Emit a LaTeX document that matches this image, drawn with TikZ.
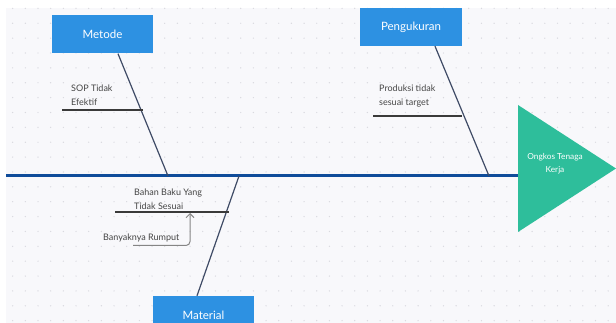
\documentclass[tikz,border=0pt]{standalone}
\usepackage{fontspec}
\setmainfont{Lato}
\usetikzlibrary{arrows.meta,calc}
\definecolor{bgc}{HTML}{F8F8FB}
\definecolor{dotc}{HTML}{D9D9DF}
\definecolor{spinec}{HTML}{0F4C9A}
\definecolor{bonec}{HTML}{3F4B66}
\definecolor{subc}{HTML}{3A3A3A}
\definecolor{boxc}{HTML}{2D91E2}
\definecolor{headc}{HTML}{2EBE9B}
\definecolor{labc}{HTML}{454545}
\definecolor{arrc}{HTML}{858585}
\tikzset{
  catbox/.style={rectangle, fill=boxc, text=white, minimum width=101pt, minimum height=38pt, inner sep=0pt, font=\fontsize{11.5}{14}\selectfont},
  lbl/.style={anchor=north west, align=left, text=labc, inner sep=0pt, font=\fontsize{9}{14}\selectfont},
  bone/.style={draw=bonec, line width=1.2pt},
  subbone/.style={draw=subc, line width=1.4pt},
  spine/.style={draw=spinec, line width=3pt},
  headtxt/.style={align=center, text=white, inner sep=0pt, font=\fontsize{8.3}{13.5}\selectfont}
}
\begin{document}
\begin{tikzpicture}[x=1pt,y=-1pt]
\useasboundingbox (0,0) rectangle (616,323);
\clip (0,0) rectangle (616,323);
\fill[white] (0,0) rectangle (616,323);
\fill[bgc] (6,8) rectangle (616,323);
\foreach \k in {1,...,48}{
  \foreach \j in {0,...,21}{
    \fill[dotc] ({12.67*\k},{8.4+14.87*\j}) circle (0.7);
  }
}
% head
\coordinate (tail) at (6,176);
\coordinate (head) at (518,176);
\fill[headc] (518,105) -- (616,168.5) -- (518,232) -- cycle;
\node[headtxt] (effect) at (555,163.5) {Ongkos Tenaga\\Kerja};
\draw[spine] (tail) -- (head);
% categories
\node[catbox] (metode) at (102.5,34.5) {Metode};
\node[catbox, minimum width=102pt] (ukur) at (411,27) {Pengukuran};
\node[catbox] (material) at (203.5,315) {Material};
\coordinate (m1) at (168,176);
\coordinate (p1) at (489,176);
\coordinate (t1) at (239,176);
\draw[bone] ([xshift=15.5pt]metode.south) -- (m1);
\draw[bone] ([xshift=24pt]ukur.south) -- (p1);
\draw[bone] ([xshift=-6.5pt]material.north) -- (t1);
% sub causes
\coordinate (s1a) at (62,110);
\coordinate (s1b) at (143,110);
\draw[subbone] (s1a) -- (s1b);
\node[lbl] (sop) at (71,85) {SOP Tidak\\Efektif};
\coordinate (s2a) at (373,116);
\coordinate (s2b) at (462,116);
\draw[subbone] (s2a) -- (s2b);
\node[lbl] (prod) at (379,85) {Produksi tidak\\sesuai target};
\coordinate (s3a) at (115,212);
\coordinate (s3b) at (229,212);
\draw[subbone] (s3a) -- (s3b);
\node[lbl] (bahan) at (134,189) {Bahan Baku Yang\\Tidak Sesuai};
\node[lbl] (rumput) at (103,234) {Banyaknya Rumput};
\coordinate (r0) at (133,245.5);
\coordinate (r1) at (190,213);
\draw[arrc, line width=1pt, rounded corners=4pt, -{Straight Barb[length=4pt,width=8pt]}] (r0) -| (r1);
\end{tikzpicture}
\end{document}
